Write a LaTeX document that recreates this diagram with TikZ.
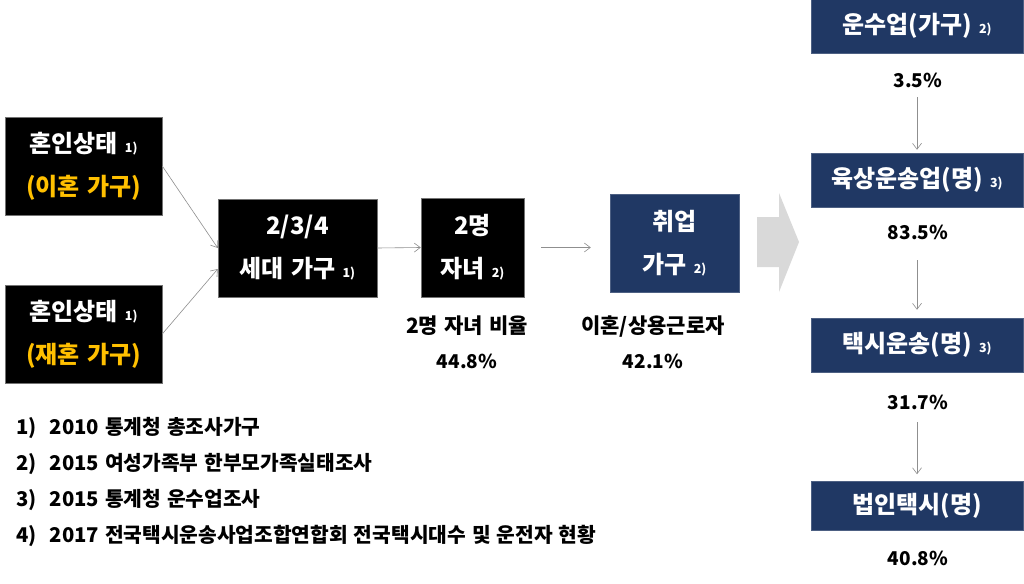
\documentclass[tikz,border=0pt]{standalone}
\usepackage{fontspec}
\setmainfont{Noto Sans CJK KR}[WordSpace=1.3]
\usetikzlibrary{arrows.meta,calc}
\definecolor{navy}{HTML}{203864}
\definecolor{gold}{HTML}{FFC000}
\definecolor{lgray}{HTML}{D9D9D9}
\definecolor{cgray}{HTML}{8F8F8F}
\newcommand{\refmark}[1]{{\fontsize{12.5}{12}\selectfont #1}}
\newcommand{\bigline}[1]{{\fontsize{21}{35}\selectfont #1}}
\begin{document}
\begin{tikzpicture}[x=1pt,y=-1pt,
  box/.style={rectangle, line width=0.5pt, text=white, inner sep=0pt, align=center,
    font=\bfseries\fontsize{24}{43}\selectfont},
  blackbox/.style={box, fill=black, draw=black!55},
  navybox/.style={box, fill=navy, draw=navy!80, minimum width=212pt, minimum height=54pt},
  conn/.style={draw=cgray, line width=0.6pt, -{Straight Barb[length=6pt,width=9pt]}},
  lbl/.style={font=\bfseries\fontsize{19}{35}\selectfont, align=center, inner sep=0pt},
  note/.style={anchor=west, font=\bfseries\fontsize{20.3}{23}\selectfont, inner sep=0pt}
]
\useasboundingbox (0,0) rectangle (1024,583);
\fill[white] (0,0) rectangle (1024,583);

% left column
\node[blackbox, minimum width=157pt, minimum height=98pt] (b1) at (83.5,166)
  {혼인상태 \refmark{1)}\\\textcolor{gold}{(이혼 가구)}};
\node[blackbox, minimum width=157pt, minimum height=98pt] (b2) at (83.5,334)
  {혼인상태 \refmark{1)}\\\textcolor{gold}{(재혼 가구)}};
\node[blackbox, minimum width=159pt, minimum height=98pt] (b3) at (297.5,248)
  {2/3/4\\세대 가구 \refmark{1)}};
\node[blackbox, minimum width=103pt, minimum height=99pt] (b4) at (472.5,247.5)
  {2명\\자녀 \refmark{2)}};
\node[navybox, minimum width=129pt, minimum height=98pt] (b5) at (674.5,243)
  {취업\\가구 \refmark{2)}};

\node[lbl] (l4) at (467,342.5) {\bigline{2명 자녀 비율}\\44.8\%};
\node[lbl] (l5) at (653,342.5) {\bigline{이혼/상용근로자}\\42.1\%};

% big gray arrow
\fill[lgray] (757,217) -- (779,217) -- (779,193) -- (799,242) -- (779,292) -- (779,267) -- (757,267) -- cycle;

% right column
\node[navybox] (r1) at (917,26) {운수업(가구) \refmark{2)}};
\node[navybox] (r2) at (917,180) {육상운송업(명) \refmark{3)}};
\node[navybox] (r3) at (917,345) {택시운송(명) \refmark{3)}};
\node[navybox, minimum height=49pt] (r4) at (917,506) {법인택시(명)};

\node[lbl] (p1) at (918,80) {3.5\%};
\node[lbl] (p2) at (918,232) {83.5\%};
\node[lbl] (p3) at (918,402) {31.7\%};
\node[lbl] (p4) at (918,558) {40.8\%};

% connectors
\draw[conn] (b1.east) -- (b3.west);
\draw[conn] (b2.east) -- ([yshift=-21pt]b3.west);
\draw[conn] (b3.east) -- (b4.west);
\draw[conn, shorten <=17pt, shorten >=19pt] (b4.east) -- (b4.east -| b5.west);
\draw[conn, shorten <=44pt, shorten >=3pt] (r1.south) -- (r2.north);
\draw[conn, shorten <=53pt, shorten >=8pt] (r2.south) -- (r3.north);
\draw[conn, shorten <=50pt, shorten >=7pt] (r3.south) -- (r4.north);

% footnotes
\node[note] (n1) at (16,428) {1)\hspace{13pt}2010 통계청 총조사가구};
\node[note] (n2) at (16,464) {2)\hspace{13pt}2015 여성가족부 한부모가족실태조사};
\node[note] (n3) at (16,500) {3)\hspace{13pt}2015 통계청 운수업조사};
\node[note] (n4) at (16,536) {4)\hspace{13pt}2017 전국택시운송사업조합연합회 전국택시대수 및 운전자 현황};
\end{tikzpicture}
\end{document}
